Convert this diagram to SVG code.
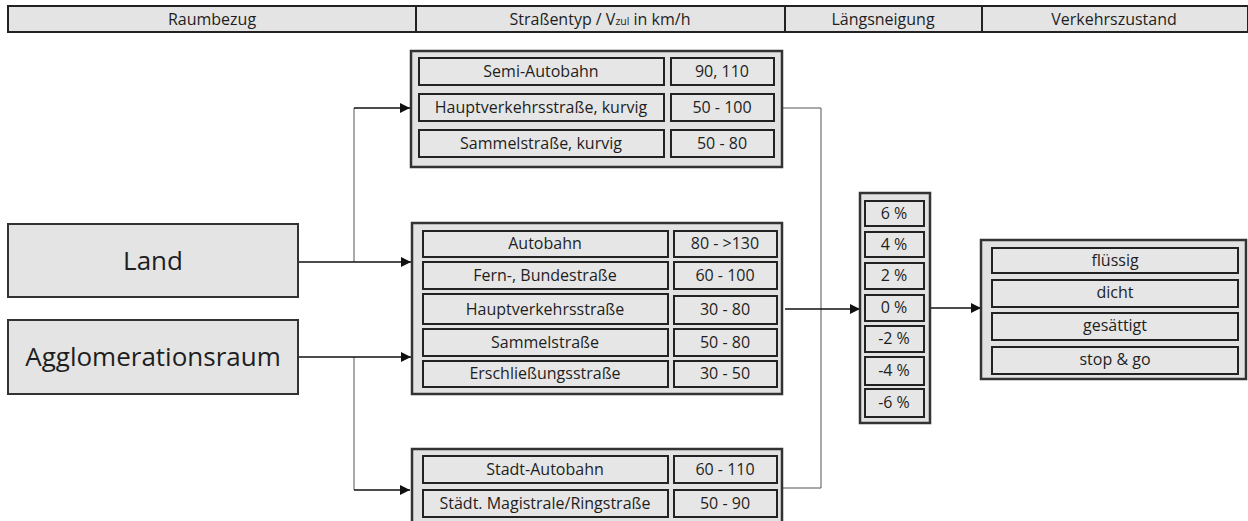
<svg xmlns="http://www.w3.org/2000/svg" width="1248" height="521" viewBox="0 0 1248 521">
  <defs>
    <marker id="arrow" viewBox="0 0 10 10" refX="10" refY="5" markerWidth="10" markerHeight="10" markerUnits="userSpaceOnUse" orient="auto">
      <path d="M0,0 L10,5 L0,10 z" fill="#111"/>
    </marker>
    <style>
      text { font-family: "Open Sans", "Liberation Sans", sans-serif; fill: #1e1e1e; text-anchor: middle; }
      .hdr { fill: #e4e4e4; stroke: #222; stroke-width: 2; }
      .hdr-t { font-size: 16px; }
      .big { fill: #e4e4e4; stroke: #333; stroke-width: 2; }
      .big-t { font-size: 26px; }
      .grp { fill: #e2e2e2; stroke: #333; stroke-width: 2.5; }
      .cell { fill: #e6e6e6; stroke: #222; stroke-width: 2; }
      .cell-t { font-size: 16px; }
      .thin { fill: none; stroke: #555; stroke-width: 1; }
      .flow { fill: none; stroke: #111; stroke-width: 1.6; }
    </style>
  </defs>
  <rect width="1248" height="521" fill="#fff"/>

  <!-- column headers -->
  <g id="header">
    <rect class="hdr" x="8" y="6" width="1240" height="26"/>
    <line x1="416" y1="6" x2="416" y2="32" stroke="#222" stroke-width="2"/>
    <line x1="785" y1="6" x2="785" y2="32" stroke="#222" stroke-width="2"/>
    <line x1="982" y1="6" x2="982" y2="32" stroke="#222" stroke-width="2"/>
    <text class="hdr-t" x="212" y="25">Raumbezug</text>
    <text class="hdr-t" x="600" y="25">Straßentyp / V<tspan font-size="10.5">zul</tspan> in km/h</text>
    <text class="hdr-t" x="883" y="25">Längsneigung</text>
    <text class="hdr-t" x="1114" y="25">Verkehrszustand</text>
  </g>

  <!-- connectors -->
  <g id="connectors">
    <path class="thin" d="M354,262 V108"/>
    <path class="thin" d="M354,357 V490"/>
    <path class="flow" d="M354,108 H410" marker-end="url(#arrow)"/>
    <path class="flow" d="M354,490 H410" marker-end="url(#arrow)"/>
    <path class="flow" d="M298,262 H411" marker-end="url(#arrow)"/>
    <path class="flow" d="M298,357 H411" marker-end="url(#arrow)"/>
    <path class="thin" d="M783,108 H821 V488 H783"/>
    <path class="flow" d="M785,309 H860" marker-end="url(#arrow)"/>
    <path class="flow" d="M930,308 H981" marker-end="url(#arrow)"/>
  </g>

  <!-- spatial reference -->
  <g id="land">
    <rect class="big" x="8" y="224" width="290" height="73"/>
    <text class="big-t" x="153" y="270">Land</text>
  </g>
  <g id="agglomerationsraum">
    <rect class="big" x="8" y="320" width="290" height="74"/>
    <text class="big-t" x="153" y="366">Agglomerationsraum</text>
  </g>

  <!-- road types: rural curvy -->
  <g id="gruppe-land">
    <rect class="grp" x="411" y="51" width="371" height="116"/>
    <rect class="cell" x="419" y="58" width="245" height="27"/>
    <rect class="cell" x="671" y="58" width="103" height="27"/>
    <text class="cell-t" x="541" y="77">Semi-Autobahn</text>
    <text class="cell-t" x="722" y="77">90, 110</text>
    <rect class="cell" x="419" y="94" width="245" height="27"/>
    <rect class="cell" x="671" y="94" width="103" height="27"/>
    <text class="cell-t" x="541" y="113">Hauptverkehrsstraße, kurvig</text>
    <text class="cell-t" x="722" y="113">50 - 100</text>
    <rect class="cell" x="419" y="130" width="245" height="27"/>
    <rect class="cell" x="671" y="130" width="103" height="27"/>
    <text class="cell-t" x="541" y="149">Sammelstraße, kurvig</text>
    <text class="cell-t" x="722" y="149">50 - 80</text>
  </g>

  <!-- road types: general -->
  <g id="gruppe-allgemein">
    <rect class="grp" x="412" y="223" width="370" height="171"/>
    <rect class="cell" x="423" y="231" width="245" height="26"/>
    <rect class="cell" x="674" y="231" width="103" height="26"/>
    <text class="cell-t" x="545" y="249">Autobahn</text>
    <text class="cell-t" x="725" y="249">80 - &gt;130</text>
    <rect class="cell" x="423" y="262" width="245" height="27"/>
    <rect class="cell" x="674" y="262" width="103" height="27"/>
    <text class="cell-t" x="545" y="281">Fern-, Bundestraße</text>
    <text class="cell-t" x="725" y="281">60 - 100</text>
    <rect class="cell" x="423" y="294" width="245" height="30"/>
    <rect class="cell" x="674" y="296" width="103" height="28"/>
    <text class="cell-t" x="545" y="315">Hauptverkehrsstraße</text>
    <text class="cell-t" x="725" y="315">30 - 80</text>
    <rect class="cell" x="423" y="329" width="245" height="27"/>
    <rect class="cell" x="674" y="329" width="103" height="27"/>
    <text class="cell-t" x="545" y="348">Sammelstraße</text>
    <text class="cell-t" x="725" y="348">50 - 80</text>
    <rect class="cell" x="423" y="361" width="245" height="26"/>
    <rect class="cell" x="674" y="361" width="103" height="26"/>
    <text class="cell-t" x="545" y="379">Erschließungsstraße</text>
    <text class="cell-t" x="725" y="379">30 - 50</text>
  </g>

  <!-- road types: urban -->
  <g id="gruppe-stadt">
    <rect class="grp" x="412" y="449" width="370" height="80"/>
    <rect class="cell" x="423" y="456" width="245" height="27"/>
    <rect class="cell" x="674" y="456" width="103" height="27"/>
    <text class="cell-t" x="545" y="475">Stadt-Autobahn</text>
    <text class="cell-t" x="725" y="475">60 - 110</text>
    <rect class="cell" x="423" y="490" width="245" height="27"/>
    <rect class="cell" x="674" y="490" width="103" height="27"/>
    <text class="cell-t" x="545" y="509">Städt. Magistrale/Ringstraße</text>
    <text class="cell-t" x="725" y="509">50 - 90</text>
  </g>

  <!-- gradient -->
  <g id="laengsneigung">
    <rect class="grp" x="860" y="193" width="70" height="230"/>
    <rect class="cell" x="865" y="201" width="59" height="25"/>
    <text class="cell-t" x="894" y="219">6 %</text>
    <rect class="cell" x="865" y="232" width="59" height="25"/>
    <text class="cell-t" x="894" y="250">4 %</text>
    <rect class="cell" x="865" y="263" width="59" height="26"/>
    <text class="cell-t" x="894" y="281">2 %</text>
    <rect class="cell" x="865" y="295" width="59" height="26"/>
    <text class="cell-t" x="894" y="313">0 %</text>
    <rect class="cell" x="865" y="326" width="59" height="26"/>
    <text class="cell-t" x="894" y="344">-2 %</text>
    <rect class="cell" x="865" y="357" width="59" height="28"/>
    <text class="cell-t" x="894" y="376">-4 %</text>
    <rect class="cell" x="865" y="389" width="59" height="28"/>
    <text class="cell-t" x="894" y="408">-6 %</text>
  </g>

  <!-- traffic state -->
  <g id="verkehrszustand">
    <rect class="grp" x="981" y="240" width="265" height="139"/>
    <rect class="cell" x="992" y="248" width="246" height="25"/>
    <text class="cell-t" x="1115" y="266">flüssig</text>
    <rect class="cell" x="992" y="280" width="246" height="27"/>
    <text class="cell-t" x="1115" y="298">dicht</text>
    <rect class="cell" x="992" y="313" width="246" height="27"/>
    <text class="cell-t" x="1115" y="331">gesättigt</text>
    <rect class="cell" x="992" y="347" width="246" height="27"/>
    <text class="cell-t" x="1115" y="365">stop &amp; go</text>
  </g>
</svg>
